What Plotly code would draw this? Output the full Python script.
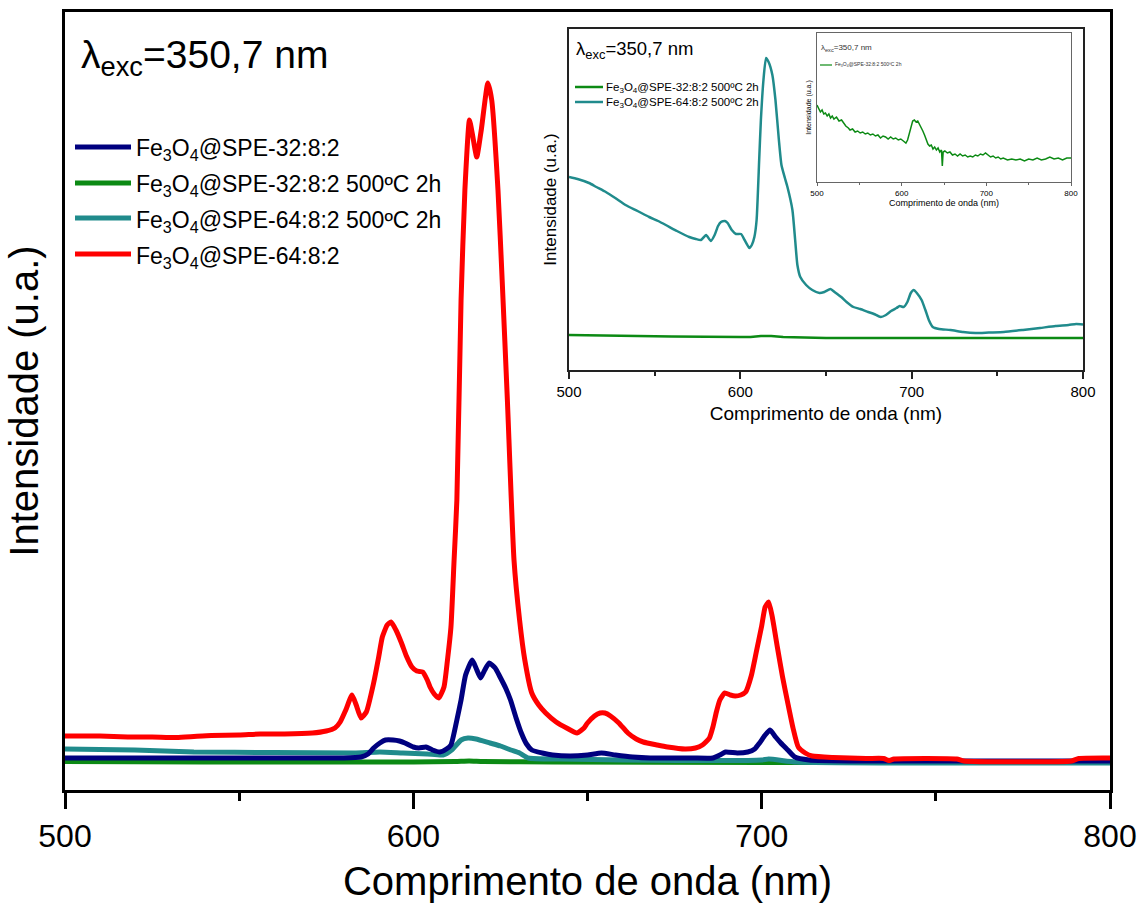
import plotly.graph_objects as go

W, H = 1141, 910
FONT = "Liberation Sans, Arial, sans-serif"

# ---------------- main panel: emission spectra (λexc = 350,7 nm) ----------------
SERIES_NAMES = [
    "Fe<sub>3</sub>O<sub>4</sub>@SPE-32:8:2",
    "Fe<sub>3</sub>O<sub>4</sub>@SPE-32:8:2 500ºC 2h",
    "Fe<sub>3</sub>O<sub>4</sub>@SPE-64:8:2 500ºC 2h",
    "Fe<sub>3</sub>O<sub>4</sub>@SPE-64:8:2",
]
SERIES_COLORS = ["#00007F", "#0C8A14", "#208B8C", "#FF0000"]

wl_blue = [500, 540, 580, 585, 587, 588.6, 590.4, 592, 594.2, 596, 597.6, 600, 601.6,
           603.6, 605.5, 607.6, 609.5, 610.8, 612.5, 613.7, 615, 616.9, 618, 619.3,
           620.5, 621.8, 623.5, 624.9, 626.5, 627.9, 629.5, 631, 632.5, 634, 637, 640,
           645, 650, 654, 658, 663, 668, 680, 686, 688, 689.6, 693, 696, 698, 699.4,
           701, 702.4, 704, 705.5, 707.5, 709.5, 713.6, 730, 800]
int_blue = [4, 4, 4, 5, 8, 14, 19, 22, 22, 21, 19, 15, 14,
            15, 12, 10, 13, 17, 42, 62, 87, 102, 94, 84,
            92, 99, 94, 85, 74, 62, 44, 29, 18, 12, 9, 7,
            6, 7, 9, 7, 5, 4, 4, 4, 7, 10, 9, 10, 13, 19,
            27, 32, 25, 19, 12, 5, 2, 1, 1]

wl_green = [500, 540, 580, 600, 612, 616, 620, 640, 700, 760, 800]
int_green = [0.5, 0, 0, 0, 0.5, 1, 0.5, 0, -0.5, -0.5, -0.5]

wl_teal = [500, 520, 537, 560, 583, 590.4, 597, 604, 608.5, 611, 613.7, 615.7, 618,
           622, 625, 628, 630.5, 633, 642, 660, 700, 702, 710, 740, 800]
int_teal = [13, 12, 10, 9.5, 9, 10, 9, 8, 7, 12, 22, 24, 23,
            19, 16, 12, 9, 4, 3, 2, 2, 3, 0, -1, -1]

wl_red = [500, 510, 518, 525, 532, 537, 542, 550, 556, 563, 571, 575, 577.5, 579,
          580.6, 582.4, 583.6, 585, 586.5, 588.6, 590, 591.1, 592.5, 593.6, 595,
          596.6, 598, 599.6, 601, 602.7, 604, 604.8, 606, 607.3, 608.8, 609.8, 610.8,
          611.7, 612.5, 613.7, 614.8, 616.1, 617, 618.2, 619.5, 621.4, 622.5, 624.3,
          625.5, 627, 628.9, 630.5, 632, 634, 636, 638, 641, 644, 647, 649, 650, 652,
          653.6, 655, 656.6, 659, 661.6, 664, 666, 670, 673, 678, 681, 683, 685, 686,
          687, 688, 689.4, 691, 692.4, 694, 695.4, 697, 698.4, 700, 701, 702, 703,
          704.5, 706, 707.5, 709, 710.5, 712.5, 714.5, 720.5, 730, 735, 736.5, 738,
          756, 758, 789, 791, 800]
int_red = [26, 26, 25, 25, 24.5, 25.5, 26.5, 27, 28, 28, 29, 31, 34, 40,
           52, 67, 57, 44, 50, 79, 104, 125, 137, 140, 132,
           119, 106, 95, 91, 90, 82, 75, 68, 64, 75, 102, 135,
           202, 262, 462, 572, 642, 627, 605, 632, 679, 662, 572,
           482, 362, 202, 142, 102, 69, 57, 49, 40, 34, 29, 34, 39, 46,
           49, 49, 46, 39, 29, 23, 20, 17, 15, 13, 14, 17, 24, 35,
           50, 62, 69, 67, 66, 67, 70, 86, 109, 136, 155, 160, 146,
           115, 85, 59, 34, 15, 9, 6, 4.5, 3.5, 3.5, 1.5, 3,
           3, 1, 1, 3.5, 4]

# ---------------- inset: calcined samples ----------------
wl_in_teal = [500, 505, 511.7, 516, 521.5, 527, 533, 540, 546.8, 552, 556.5, 563, 570.2,
              574, 577, 580, 582.8, 585, 587, 588.7, 591, 592.6, 595, 597.5, 600.4,
              602.5, 605.3, 606.7, 608.2, 609.5, 611, 612, 613.5, 615, 616.5, 618.7,
              620.5, 622.5, 624, 626, 627.5, 630.4, 632, 633.3, 635, 638.4, 642, 646.2,
              649, 652.6, 655, 658.9, 662, 666, 670, 674.6, 678, 681.9, 685, 688, 691.2,
              693, 695.3, 697.5, 699.5, 701.2, 703, 705.8, 708, 710, 712.3, 716, 722.6,
              730, 737.3, 745, 753.8, 765, 774.9, 784, 791.6, 796, 800]
int_in_teal = [193, 191, 187, 183, 178, 172, 165, 159, 153, 149, 145, 139, 133,
               131, 130, 135, 129, 135, 144, 148, 149, 147, 140, 136, 136,
               130, 122, 125, 133, 150, 210, 250, 290, 312, 308, 295,
               270, 230, 205, 192, 183, 160, 130, 105, 93, 85, 80, 77,
               78, 81, 78, 73, 68, 63, 61, 58, 56, 53, 55, 59, 62,
               64, 63, 68, 77, 80, 77, 70, 60, 50, 43, 41, 40,
               38, 37, 37.5, 38, 40, 42, 44, 45, 46, 45.5]

wl_in_green = [500, 530, 560, 600, 606, 612, 618, 625, 650, 700, 750, 800]
int_in_green = [35, 34, 33.5, 33, 33, 34, 34, 33, 32, 32, 32, 32]

# ---------------- nested inset: Fe3O4@SPE-32:8:2 500ºC 2h alone ----------------
wl_sub = [500, 502, 504, 506, 508, 510, 512, 514, 516, 518, 520, 523, 526, 529, 531,
          534, 537, 539, 542, 545, 548, 551, 554, 557, 560, 563, 566, 569, 572, 575,
          578, 581, 584, 587, 590, 593, 596, 599, 602, 605, 607, 609, 611, 613, 615,
          617, 619, 621, 623, 625, 627, 629, 631, 633, 635, 637, 639, 641, 643, 645,
          647, 648, 649, 651, 654, 657, 660, 663, 666, 669, 672, 675, 678, 681, 684,
          687, 690, 693, 696, 699, 702, 705, 708, 711, 714, 717, 720, 725, 730, 735,
          740, 745, 750, 755, 760, 765, 770, 775, 780, 785, 790, 795, 800]
int_sub = [77, 74, 70, 72, 68, 69, 66, 68, 64, 66, 63, 65, 61, 62, 59,
           56, 54, 52, 53, 50, 51, 49, 50, 48, 49, 47, 48, 46, 47, 44,
           46, 45, 43, 45, 43, 44, 42, 43, 41, 39, 42, 49, 56, 61, 62,
           60, 61, 58, 55, 51, 47, 42, 38, 36, 37, 33, 35, 32, 34, 30,
           32, 16, 30, 31, 29, 30, 27, 28, 26, 28, 26, 27, 25, 26, 25,
           27, 26, 28, 27, 29, 27, 25, 26, 24, 25, 23, 24, 22, 23, 22,
           23, 21, 23, 22, 24, 22, 23, 25, 23, 24, 22, 24, 24]

MAIN_TICKS = [500, 600, 700, 800]
MINOR_TICKS = [550, 650, 750]


def px(x):
    return x / W


def py(y):
    return 1 - y / H


fig = go.Figure()

# main panel: green, teal, blue, red (red on top)
main_sets = [
    (wl_green, int_green, 1),
    (wl_teal, int_teal, 2),
    (wl_blue, int_blue, 0),
    (wl_red, int_red, 3),
]
for xs, ys, k in main_sets:
    fig.add_trace(go.Scatter(
        x=xs, y=ys, mode="lines", name=SERIES_NAMES[k], showlegend=False,
        line=dict(color=SERIES_COLORS[k], width=5, shape="spline", smoothing=0.5),
        xaxis="x", yaxis="y"))

# inset panel
fig.add_trace(go.Scatter(
    x=wl_in_green, y=int_in_green, mode="lines", name=SERIES_NAMES[1], showlegend=False,
    line=dict(color=SERIES_COLORS[1], width=2.5), xaxis="x2", yaxis="y2"))
fig.add_trace(go.Scatter(
    x=wl_in_teal, y=int_in_teal, mode="lines", name=SERIES_NAMES[2], showlegend=False,
    line=dict(color=SERIES_COLORS[2], width=2.5, shape="spline", smoothing=0.5),
    xaxis="x2", yaxis="y2"))

# nested panel
fig.add_trace(go.Scatter(
    x=wl_sub, y=int_sub, mode="lines", name=SERIES_NAMES[1], showlegend=False,
    line=dict(color=SERIES_COLORS[1], width=1.5), xaxis="x3", yaxis="y3"))


def x_axis(domain, anchor, lw, lc, tlen, mlen, tfont, title, tsize, standoff):
    return dict(
        domain=domain, anchor=anchor, range=[500, 800], showgrid=False, zeroline=False,
        showline=True, linecolor=lc, linewidth=lw, mirror=True,
        ticks="outside", ticklen=tlen, tickwidth=lw, tickcolor=lc,
        tickvals=MAIN_TICKS, tickfont=dict(size=tfont, color="black", family=FONT),
        minor=dict(tickvals=MINOR_TICKS, ticks="outside", ticklen=mlen, tickwidth=lw,
                   tickcolor=lc),
        title=dict(text=title, font=dict(size=tsize, color="black", family=FONT),
                   standoff=standoff),
        automargin=False,
    )


def y_axis(domain, anchor, rng, lw, lc, title, tsize, standoff):
    return dict(
        domain=domain, anchor=anchor, range=rng, showgrid=False, zeroline=False,
        showline=True, linecolor=lc, linewidth=lw, mirror=True,
        ticks="", showticklabels=False,
        title=dict(text=title, font=dict(size=tsize, color="black", family=FONT),
                   standoff=standoff),
        automargin=False,
    )


annotations = []
shapes = []

# main legend
leg_rows = [147, 183, 218, 254]
for k, yy in enumerate(leg_rows):
    shapes.append(dict(type="line", xref="paper", yref="paper",
                       x0=px(75), x1=px(131), y0=py(yy), y1=py(yy),
                       line=dict(color=SERIES_COLORS[k], width=5)))
    annotations.append(dict(xref="paper", yref="paper", x=px(134), y=py(yy + 3),
                            xanchor="left", yanchor="middle", showarrow=False,
                            text=SERIES_NAMES[k],
                            font=dict(size=23, color="black", family=FONT)))

# inset legend
for k, yy in zip([1, 2], [87, 102]):
    shapes.append(dict(type="line", xref="paper", yref="paper",
                       x0=px(575), x1=px(603), y0=py(yy), y1=py(yy),
                       line=dict(color=SERIES_COLORS[k], width=2.5)))
    annotations.append(dict(xref="paper", yref="paper", x=px(604), y=py(yy + 1),
                            xanchor="left", yanchor="middle", showarrow=False,
                            text=SERIES_NAMES[k],
                            font=dict(size=11.5, color="black", family=FONT)))

# nested legend
shapes.append(dict(type="line", xref="paper", yref="paper",
                   x0=px(820), x1=px(832), y0=py(65), y1=py(65),
                   line=dict(color=SERIES_COLORS[1], width=1.2)))
annotations.append(dict(xref="paper", yref="paper", x=px(833), y=py(65),
                        xanchor="left", yanchor="middle", showarrow=False,
                        text=SERIES_NAMES[1],
                        font=dict(size=5, color="#333", family=FONT)))

# excitation wavelength labels
LAMBDA_TXT = "λ<sub>exc</sub>=350,7 nm"
annotations.append(dict(xref="paper", yref="paper", x=px(79), y=py(58),
                        xanchor="left", yanchor="middle", showarrow=False,
                        text=LAMBDA_TXT, font=dict(size=39, color="black", family=FONT)))
annotations.append(dict(xref="paper", yref="paper", x=px(574), y=py(50),
                        xanchor="left", yanchor="middle", showarrow=False,
                        text=LAMBDA_TXT, font=dict(size=18.5, color="black", family=FONT)))
annotations.append(dict(xref="paper", yref="paper", x=px(819), y=py(48),
                        xanchor="left", yanchor="middle", showarrow=False,
                        text=LAMBDA_TXT, font=dict(size=8, color="#333", family=FONT)))

fig.update_layout(
    width=W, height=H,
    margin=dict(l=0, r=0, t=0, b=0),
    paper_bgcolor="white", plot_bgcolor="white",
    font=dict(family=FONT, color="black"),
    showlegend=False,
    xaxis=x_axis([px(65), px(1110)], "y", 3, "black", 16, 8, 32,
                 "Comprimento de onda (nm)", 40, 14),
    yaxis=y_axis([py(790), py(12)], "x", [-28, 750], 3, "black",
                 "Intensidade (u.a.)", 40, 12),
    xaxis2=x_axis([px(569), px(1083)], "y2", 1.8, "#222", 7, 4, 15,
                  "Comprimento de onda (nm)", 19, 8),
    yaxis2=y_axis([py(370), py(29)], "x2", [0, 341], 1.8, "#222",
                  "Intensidade (u.a.)", 17, 6),
    xaxis3=x_axis([px(817), px(1071)], "y3", 1, "#666", 3, 2, 8,
                  "Comprimento de onda (nm)", 9, 2),
    yaxis3=y_axis([py(182), py(33)], "x3", [0, 149], 1, "#666",
                  "Intensidade (u.a.)", 7, 3),
    annotations=annotations,
    shapes=shapes,
)

fig.write_html("out.html")
